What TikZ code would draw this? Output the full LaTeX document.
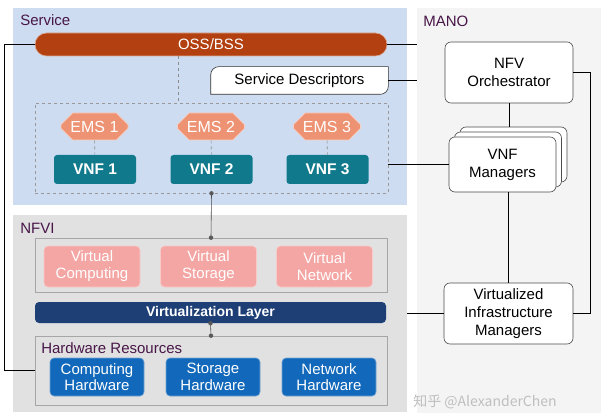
\documentclass[tikz,border=0pt]{standalone}
\usepackage{fontspec}
\setmainfont{Liberation Sans}
\newfontfamily\cjk{Noto Sans CJK SC}
\usetikzlibrary{shapes.misc}
\definecolor{svcbg}{RGB}{205,220,241}
\definecolor{nfvibg}{RGB}{225,225,225}
\definecolor{manobg}{RGB}{244,244,244}
\definecolor{ossc}{RGB}{178,64,16}
\definecolor{emsc}{RGB}{237,146,114}
\definecolor{vnfc}{RGB}{16,122,140}
\definecolor{virtc}{RGB}{244,166,164}
\definecolor{vlc}{RGB}{30,62,118}
\definecolor{hwc}{RGB}{18,104,186}
\definecolor{labc}{RGB}{72,22,72}
\tikzset{
  panel/.style={rectangle,inner sep=0pt,draw=none},
  title/.style={anchor=west,inner sep=0pt,text=labc,font=\fontsize{15}{17}\selectfont},
  ems/.style={chamfered rectangle,chamfered rectangle xsep=6pt,chamfered rectangle ysep=6pt,
    fill=emsc,draw=white!55!emsc,text=white,inner sep=0pt,minimum width=67pt,minimum height=27pt,
    font=\fontsize{16}{18}\selectfont},
  vnf/.style={rectangle,rounded corners=3pt,fill=vnfc,text=white,inner sep=0pt,
    minimum width=82pt,minimum height=29pt,font=\bfseries\fontsize{15.5}{18}\selectfont},
  virt/.style={rectangle,rounded corners=4pt,fill=virtc,draw=white!40!virtc,text=white,inner sep=0pt,
    minimum width=96pt,minimum height=41pt,align=center,font=\fontsize{15}{17}\selectfont},
  hwbox/.style={rectangle,rounded corners=4pt,fill=hwc,draw=white!40!hwc,text=white,inner sep=0pt,
    minimum width=94pt,minimum height=38pt,align=center,font=\fontsize{15}{16.5}\selectfont},
  mgr/.style={rectangle,rounded corners=6pt,fill=white,draw=black!70,inner sep=0pt,align=center,
    font=\fontsize{15}{18}\selectfont},
  frame/.style={rectangle,draw=black!35,inner sep=0pt},
  dot/.style={fill=black!65}
}
\begin{document}
\begin{tikzpicture}[x=1pt,y=-1pt,line width=0.6pt]
	\useasboundingbox (0,0) rectangle (601,419);
	% panels
	\node[panel,fill=svcbg,minimum width=394pt,minimum height=197pt](svc) at (210,106.5){};
	\node[panel,fill=nfvibg,minimum width=394pt,minimum height=197pt](nfvi) at (210,313.5){};
	\node[panel,fill=manobg,minimum width=184pt,minimum height=405pt](mano) at (509,210.5){};
	\node[title](svclab) at (20,20){Service};
	\node[title](nfvilab) at (20,228){NFVI};
	\node[title](manolab) at (423,21){MANO};
	% service
	\node[rectangle,rounded corners=11.5pt,fill=ossc,draw=white!55!ossc,text=white,inner sep=0pt,
		minimum width=352pt,minimum height=23pt,font=\fontsize{15}{17}\selectfont](oss) at (211,44.5){OSS/BSS};
	\node[rectangle,inner sep=0pt,minimum width=177pt,minimum height=27pt](sd) at (299.5,80.5){};
	\draw[black!80,fill=white] (sd.south west) [rounded corners=8pt] -- (sd.north west) [sharp corners] -- (sd.north east)
		[rounded corners=8pt] -- (sd.south east) [sharp corners] -- (sd.south west) -- cycle;
	\node[font=\fontsize{15}{17}\selectfont](sdtext) at (sd){Service Descriptors};
	\node[rectangle,draw=black!40,dashed,inner sep=0pt,minimum width=353pt,minimum height=90pt](grp) at (211.5,148){};
	\draw[black!45,dashed](oss.south -| 178,0)--(grp.north -| 178,0);
	\node[ems](ems1) at (94.5,126.5){EMS 1};
	\node[ems](ems2) at (211,126.5){EMS 2};
	\node[ems](ems3) at (327,126.5){EMS 3};
	\node[vnf](vnf1) at (95,169.5){VNF 1};
	\node[vnf](vnf2) at (211.5,169.5){VNF 2};
	\node[vnf](vnf3) at (327.5,169.5){VNF 3};
	\draw[black!45,dashed](ems1)--(vnf1);
	\draw[black!45,dashed](ems2)--(vnf2);
	\draw[black!45,dashed](ems3)--(vnf3);
	% nfvi
	\node[frame,minimum width=352pt,minimum height=54pt](virtgrp) at (211,265){};
	\node[virt](vc) at (92,266.5){Virtual\\Computing};
	\node[virt](vs) at (208.5,266.5){Virtual\\Storage};
	\node[virt](vn) at (324.5,266.5){Virtual\\Network};
	\node[rectangle,rounded corners=4pt,fill=vlc,text=white,inner sep=0pt,minimum width=351pt,minimum height=21pt,
		font=\bfseries\fontsize{14}{16}\selectfont](vl) at (210.5,312.5){Virtualization Layer};
	\node[frame,minimum width=352pt,minimum height=69pt](hw) at (211,370.5){};
	\node[title](hwlab) at (41,348){Hardware Resources};
	\node[hwbox](chw) at (97,377){Computing\\Hardware};
	\node[hwbox](shw) at (213,377){Storage\\Hardware};
	\node[hwbox](nhw) at (329,377){Network\\Hardware};
	\draw[black!70](grp.south)--(virtgrp.north);
	\fill[dot](grp.south) circle (2.2);
	\fill[dot](virtgrp.north) circle (2.2);
	\draw[black!70](vl.south)--(hw.north);
	\fill[dot](vl.south) circle (2.2);
	\fill[dot](hw.north) circle (2.2);
	% mano
	\node[mgr,minimum width=128pt,minimum height=61pt](nfvo) at (509,72.5){NFV\\Orchestrator};
	\node[mgr,minimum width=107pt,minimum height=55pt](vnfm3) at (513.5,154.5){};
	\node[mgr,minimum width=107pt,minimum height=55pt](vnfm2) at (508,159.5){};
	\node[mgr,minimum width=107pt,minimum height=55pt](vnfm) at (502.5,164.5){VNF\\Managers};
	\node[mgr,minimum width=129pt,minimum height=61pt](vim) at (508.5,313.5){Virtualized\\Infrastructure\\Managers};
	% connectors
	\draw[black](oss.west)--++(-30,0)|-(hw.west);
	\draw[black](oss.east)--(oss.east -| mano.west);
	\draw[black](sd.east)--(sd.east -| mano.west);
	\draw[black](vnfm.west -| grp.east)--(vnfm.west);
	\draw[black](nfvo.south)--(nfvo.south |- vnfm3.north);
	\draw[black](vim.north)--(vim.north |- vnfm.south);
	\draw[black](nfvo.east)--++(17,0)|-(vim.east);
	\draw[black](vim.west)--(vim.west -| nfvi.east);
	\node[text=black!25,font=\cjk\fontsize{14}{16}\selectfont](wm) at (485,402){知乎 @AlexanderChen};
\end{tikzpicture}
\end{document}
